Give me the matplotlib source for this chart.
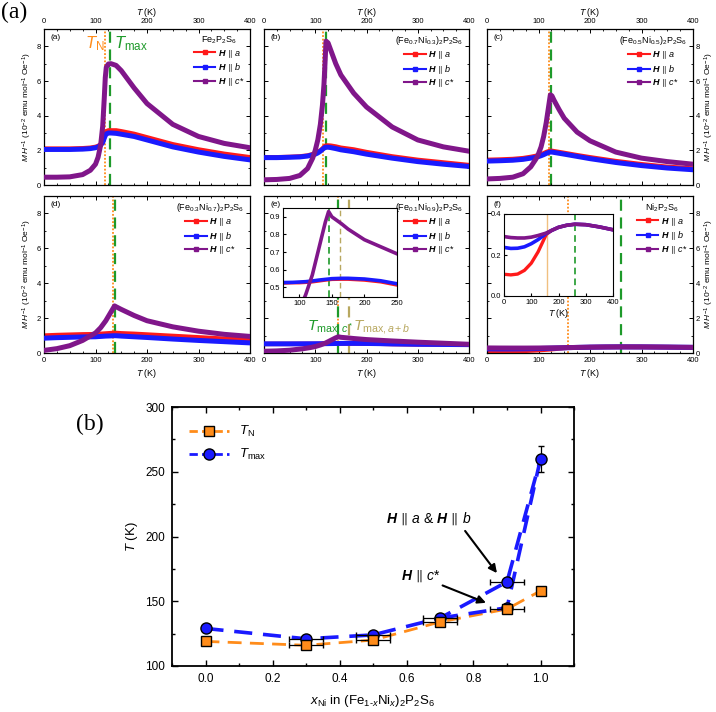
import matplotlib
matplotlib.use('Agg')
import matplotlib.pyplot as plt
from matplotlib.lines import Line2D
from matplotlib.ticker import MultipleLocator, FormatStrFormatter

plt.rcParams['font.family'] = ['Liberation Sans', 'DejaVu Sans']
plt.rcParams['mathtext.fontset'] = 'custom'
plt.rcParams['mathtext.rm'] = 'Liberation Sans'
plt.rcParams['mathtext.it'] = 'Liberation Sans:italic'
plt.rcParams['mathtext.bf'] = 'Liberation Sans:bold'
plt.rcParams['mathtext.bfit'] = 'Liberation Sans:bold:italic'
plt.rcParams['mathtext.fallback'] = 'stixsans'

RED = '#ff1a1a'
BLUE = '#1a1aff'
PURPLE = '#80168a'
ORANGE = '#ff8c1a'
GREEN = '#1e9a2a'
OLIVE = '#b8a860'

# ---- panel (a): M/H vs T for six compositions ----
names = [r'Fe$_2$P$_2$S$_6$', r'(Fe$_{0.7}$Ni$_{0.3}$)$_2$P$_2$S$_6$',
         r'(Fe$_{0.5}$Ni$_{0.5}$)$_2$P$_2$S$_6$', r'(Fe$_{0.3}$Ni$_{0.7}$)$_2$P$_2$S$_6$',
         r'(Fe$_{0.1}$Ni$_{0.9}$)$_2$P$_2$S$_6$', r'Ni$_2$P$_2$S$_6$']
letters = ['(a)', '(b)', '(c)', '(d)', '(e)', '(f)']

T_x0 = [0, 25, 50, 75, 90, 100, 105, 110, 114, 117, 119, 121, 125, 130, 140, 150, 175, 200, 250, 300, 350, 400]
a_x0 = [2.1, 2.1, 2.1, 2.12, 2.15, 2.2, 2.25, 2.35, 2.5, 2.8, 3.0, 3.1, 3.15, 3.15, 3.15, 3.1, 2.95, 2.75, 2.35, 2.05, 1.8, 1.6]
b_x0 = [2.05, 2.05, 2.05, 2.07, 2.1, 2.15, 2.2, 2.3, 2.45, 2.7, 2.85, 2.95, 3.0, 3.0, 2.98, 2.93, 2.8, 2.6, 2.2, 1.9, 1.65, 1.45]
c_x0 = [0.45, 0.45, 0.47, 0.6, 0.85, 1.2, 1.6, 2.3, 3.4, 5.0, 6.2, 6.8, 6.98, 7.0, 6.9, 6.6, 5.6, 4.7, 3.5, 2.8, 2.4, 2.15]

T_x3 = [0, 25, 50, 70, 85, 95, 100, 105, 110, 114, 117, 119, 121, 125, 130, 140, 150, 175, 200, 250, 300, 350, 400]
a_x3 = [1.6, 1.6, 1.62, 1.65, 1.7, 1.78, 1.82, 1.9, 2.0, 2.1, 2.2, 2.25, 2.28, 2.28, 2.27, 2.22, 2.15, 2.05, 1.9, 1.65, 1.45, 1.3, 1.15]
b_x3 = [1.58, 1.58, 1.6, 1.62, 1.67, 1.74, 1.78, 1.85, 1.95, 2.05, 2.12, 2.17, 2.18, 2.18, 2.16, 2.1, 2.03, 1.92, 1.78, 1.55, 1.35, 1.2, 1.07]
c_x3 = [0.3, 0.32, 0.38, 0.55, 0.95, 1.55, 2.0, 2.6, 3.5, 4.6, 5.8, 7.0, 8.3, 8.2, 7.8, 7.0, 6.35, 5.3, 4.5, 3.35, 2.6, 2.2, 1.95]

T_x5 = [0, 25, 50, 70, 85, 95, 100, 105, 110, 115, 120, 123, 126, 130, 140, 150, 175, 200, 250, 300, 350, 400]
a_x5 = [1.45, 1.47, 1.5, 1.55, 1.62, 1.68, 1.72, 1.77, 1.83, 1.9, 1.95, 1.97, 1.97, 1.95, 1.9, 1.85, 1.72, 1.6, 1.38, 1.2, 1.05, 0.95]
b_x5 = [1.38, 1.4, 1.43, 1.48, 1.55, 1.6, 1.64, 1.69, 1.75, 1.82, 1.88, 1.9, 1.9, 1.88, 1.83, 1.78, 1.65, 1.52, 1.3, 1.12, 0.98, 0.88]
c_x5 = [0.35, 0.38, 0.45, 0.65, 1.05, 1.5, 1.8, 2.2, 2.8, 3.6, 4.6, 5.2, 5.15, 4.9, 4.35, 3.85, 3.05, 2.55, 1.9, 1.55, 1.35, 1.2]

T_x7 = [0, 25, 50, 75, 100, 110, 120, 130, 135, 137, 140, 150, 175, 200, 250, 300, 350, 400]
a_x7 = [1.0, 1.03, 1.05, 1.07, 1.08, 1.1, 1.12, 1.14, 1.15, 1.15, 1.15, 1.13, 1.1, 1.06, 0.98, 0.9, 0.82, 0.76]
b_x7 = [0.85, 0.88, 0.9, 0.92, 0.93, 0.95, 0.97, 0.98, 0.99, 0.99, 0.99, 0.97, 0.93, 0.89, 0.8, 0.72, 0.65, 0.58]
c_x7 = [0.15, 0.25, 0.42, 0.72, 1.15, 1.45, 1.85, 2.35, 2.6, 2.7, 2.65, 2.5, 2.15, 1.85, 1.5, 1.25, 1.07, 0.95]

T_x9 = [0, 25, 50, 75, 90, 100, 110, 120, 130, 140, 145, 150, 165, 175, 200, 225, 250, 300, 350, 400]
a_x9 = [0.52, 0.52, 0.52, 0.523, 0.525, 0.525, 0.527, 0.53, 0.535, 0.54, 0.542, 0.544, 0.545, 0.545, 0.54, 0.53, 0.512, 0.49, 0.48, 0.47]
b_x9 = [0.525, 0.525, 0.525, 0.527, 0.528, 0.53, 0.532, 0.536, 0.541, 0.545, 0.547, 0.549, 0.551, 0.551, 0.547, 0.537, 0.52, 0.5, 0.49, 0.48]
c_x9 = [0.1, 0.12, 0.16, 0.24, 0.31, 0.37, 0.46, 0.57, 0.72, 0.87, 0.93, 0.9, 0.86, 0.83, 0.77, 0.73, 0.69, 0.62, 0.56, 0.5]

T_x10 = [0, 25, 50, 75, 100, 125, 155, 175, 200, 230, 260, 300, 350, 400]
a_x10 = [0.106, 0.103, 0.107, 0.125, 0.16, 0.215, 0.3, 0.32, 0.335, 0.345, 0.35, 0.348, 0.337, 0.323]
b_x10 = [0.237, 0.232, 0.233, 0.24, 0.255, 0.275, 0.305, 0.32, 0.335, 0.345, 0.35, 0.348, 0.337, 0.323]
c_x10 = [0.29, 0.285, 0.283, 0.283, 0.287, 0.295, 0.307, 0.32, 0.335, 0.345, 0.35, 0.348, 0.337, 0.323]

# ---- panel (b): transition temperatures ----
x_ni = [0.0, 0.3, 0.5, 0.7, 0.9, 1.0]
x_err = [0, 0.05, 0.05, 0.05, 0.05, 0]
t_n = [119, 116, 120, 134, 144, 158]
t_n_err = [0, 0, 0, 0, 0, 2]
t_max = [129, 121, 124, 137, 165, 260]   # H || a & H || b at x = 0.9
t_max_err = [0, 0, 0, 0, 0, 10]
t_max_c = 145                             # H || c* at x = 0.9

curves = [(T_x0, a_x0, b_x0, c_x0), (T_x3, a_x3, b_x3, c_x3), (T_x5, a_x5, b_x5, c_x5),
          (T_x7, a_x7, b_x7, c_x7), (T_x9, a_x9, b_x9, c_x9), (T_x10, a_x10, b_x10, c_x10)]
t_n_lines = t_n
t_max_lines = [t_max[0], t_max[1], t_max[2], t_max[3], t_max_c, t_max[5]]

fig = plt.figure(figsize=(7.16, 7.12), dpi=100)
W, H = 716, 712


def box(x0, y0, x1, y1):
    return [x0 / W, 1 - y1 / H, (x1 - x0) / W, (y1 - y0) / H]


cols = [(44, 250), (264, 469), (487, 693)]
rows = [(29, 185), (196, 353)]

lab_a = r'$\mathbfit{H}\,\parallel\,\mathit{a}$'
lab_b = r'$\mathbfit{H}\,\parallel\,\mathit{b}$'
lab_c = r'$\mathbfit{H}\,\parallel\,\mathit{c}$*'
ylab = r'$M\;H^{-1}$ (10$^{-2}$ emu mol$^{-1}$ Oe$^{-1}$)'

axes = []
for i in range(6):
    r, c = divmod(i, 3)
    ax = fig.add_axes(box(cols[c][0], rows[r][0], cols[c][1], rows[r][1]))
    axes.append(ax)
    T, ma, mb, mc = curves[i]
    ax.axvline(t_n_lines[i], color=ORANGE, ls=(0, (1, 1)), lw=1.3, zorder=1)
    ax.axvline(t_max_lines[i], color=GREEN, ls=(0, (5, 3)), lw=1.6, zorder=1)
    if i == 4:
        ax.axvline(t_max[4], color=OLIVE, ls=(0, (5, 3)), lw=1.6, zorder=1)
    ax.plot(T, ma, color=RED, lw=3.2, zorder=2)
    ax.plot(T, mb, color=BLUE, lw=3.6, zorder=3)
    ax.plot(T, mc, color=PURPLE, lw=3.6, zorder=4)
    ax.set_xlim(0, 400)
    ax.set_ylim(0, 9)
    ax.xaxis.set_major_locator(MultipleLocator(100))
    ax.xaxis.set_minor_locator(MultipleLocator(25))
    ax.yaxis.set_major_locator(MultipleLocator(2))
    ax.yaxis.set_minor_locator(MultipleLocator(1))
    ax.tick_params(which='both', direction='in', top=True, right=True, labelsize=5.5, pad=2)
    ax.tick_params(axis='x', pad=3)
    ax.tick_params(which='major', length=3, width=0.7)
    ax.tick_params(which='minor', length=1.5, width=0.6)
    for s in ax.spines.values():
        s.set_linewidth(0.9)
    if r == 0:
        ax.tick_params(labeltop=True, labelbottom=False)
        ax.xaxis.set_label_position('top')
    ax.set_xlabel(r'$T$ (K)', fontsize=6.5, labelpad=2)
    if c == 0:
        ax.set_ylabel(ylab, fontsize=6, labelpad=2)
    elif c == 1:
        ax.tick_params(labelleft=False)
    else:
        ax.tick_params(labelleft=False, labelright=True)
        ax.yaxis.set_label_position('right')
        ax.set_ylabel(ylab, fontsize=6, labelpad=2)
    ax.text(0.03, 0.965, letters[i], transform=ax.transAxes, fontsize=6, va='top')
    handles = [Line2D([], [], color=RED, lw=1.5, marker='s', ms=2.5),
               Line2D([], [], color=BLUE, lw=1.5, marker='s', ms=2.5),
               Line2D([], [], color=PURPLE, lw=1.5, marker='s', ms=2.5)]
    leg = ax.legend(handles, [lab_a, lab_b, lab_c], title=names[i], loc='upper right',
                    fontsize=6.5, title_fontsize=6.5, frameon=False, handlelength=2.4,
                    handletextpad=0.3, labelspacing=0.2, borderaxespad=0.2,
                    bbox_to_anchor=(1.0, 1.0))
    leg.set_zorder(10)

axes[0].text(80, 7.9, r'$T_{\rm N}$', color=ORANGE, fontsize=12)
axes[0].text(136, 7.9, r'$T_{\rm max}$', color=GREEN, fontsize=12)
axes[4].text(84, 1.3, r'$T_{{\rm max},c^*}$', color=GREEN, fontsize=11)
axes[4].text(174, 1.3, r'$T_{{\rm max},a+b}$', color=OLIVE, fontsize=11)

# inset of (e)
ins_e = fig.add_axes(box(283, 208, 397, 297))
ins_e.set_facecolor('white')
ins_e.axvline(t_max_c, color=GREEN, ls=(0, (4, 2.5)), lw=1.2)
ins_e.axvline(t_max[4] - 3, color=OLIVE, ls=(0, (4, 2.5)), lw=1.0)
ins_e.plot(T_x9, a_x9, color=RED, lw=2.2)
ins_e.plot(T_x9, b_x9, color=BLUE, lw=2.6)
ins_e.plot(T_x9, c_x9, color=PURPLE, lw=2.6)
ins_e.set_xlim(75, 250)
ins_e.set_ylim(0.445, 0.95)
ins_e.xaxis.set_major_locator(MultipleLocator(50))
ins_e.yaxis.set_major_locator(MultipleLocator(0.1))
ins_e.tick_params(direction='in', labelsize=5.5, length=2, pad=2)

# inset of (f)
ins_f = fig.add_axes(box(504, 214, 613, 296))
ins_f.set_facecolor('white')
ins_f.axvline(t_n[5], color='#f0c080', lw=1.0)
ins_f.axvline(t_max[5], color=GREEN, ls=(0, (4, 2.5)), lw=1.2)
ins_f.plot(T_x10, a_x10, color=RED, lw=2.4)
ins_f.plot(T_x10, b_x10, color=BLUE, lw=2.6)
ins_f.plot(T_x10, c_x10, color=PURPLE, lw=2.6)
ins_f.set_xlim(0, 400)
ins_f.set_ylim(0, 0.4)
ins_f.xaxis.set_major_locator(MultipleLocator(100))
ins_f.yaxis.set_major_locator(MultipleLocator(0.2))
ins_f.yaxis.set_major_formatter(FormatStrFormatter('%.1f'))
ins_f.tick_params(direction='in', labelsize=5.5, length=2, pad=2)
ins_f.set_xlabel(r'$T$ (K)', fontsize=6.5, labelpad=1)

# ---- panel (b) ----
axb = fig.add_axes(box(172, 407, 574, 666))
dash_o = (0, (5, 3))
dash_b = (0, (5, 3))
axb.plot(x_ni, t_n, color=ORANGE, ls=dash_o, lw=2.0, zorder=2)
axb.plot(x_ni, t_max, color=BLUE, ls=dash_b, lw=2.6, zorder=2)
axb.plot([x_ni[3], x_ni[4], x_ni[5]], [t_max[3], t_max_c, t_max[5]], color=BLUE, ls=dash_b,
         lw=2.6, zorder=2)
axb.errorbar(x_ni, t_max, xerr=x_err, yerr=t_max_err, fmt='o', mfc=BLUE, mec='k', mew=1.0,
             ms=8, ecolor='k', elinewidth=0.9, capsize=2.5, zorder=3)
axb.errorbar([x_ni[4]], [t_max_c], fmt='o', mfc=BLUE, mec='k', mew=1.0, ms=8, zorder=3)
axb.errorbar(x_ni, t_n, xerr=x_err, yerr=t_n_err, fmt='s', mfc=ORANGE, mec='k', mew=1.0,
             ms=6.5, ecolor='k', elinewidth=0.9, capsize=2.5, zorder=4)
axb.set_xlim(-0.1, 1.1)
axb.set_ylim(100, 300)
axb.xaxis.set_major_locator(MultipleLocator(0.2))
axb.xaxis.set_minor_locator(MultipleLocator(0.1))
axb.yaxis.set_major_locator(MultipleLocator(50))
axb.yaxis.set_minor_locator(MultipleLocator(25))
axb.tick_params(which='both', direction='in', top=True, right=True, labelsize=8.5, pad=5)
axb.tick_params(which='major', length=4, width=1)
axb.tick_params(which='minor', length=2.5, width=1)
for s in axb.spines.values():
    s.set_linewidth(1.3)
axb.set_xlabel(r'$x_{\rm Ni}$ in (Fe$_{1\text{-}x}$Ni$_x$)$_2$P$_2$S$_6$', fontsize=9.5, labelpad=6)
axb.set_ylabel(r'$T$ (K)', fontsize=9.5, labelpad=4)

hb = [Line2D([], [], color=ORANGE, ls=(0, (3, 1.5)), lw=2, marker='s', mfc=ORANGE, mec='k', ms=7),
      Line2D([], [], color=BLUE, ls=(0, (3, 1.5)), lw=2, marker='o', mfc=BLUE, mec='k', ms=8)]
axb.legend(hb, [r'$T_{\rm N}$', r'$T_{\rm max}$'], loc='upper left', frameon=False,
           fontsize=9.5, handlelength=3.0, borderaxespad=0.9, labelspacing=0.6)

axb.text(0.54, 211, r'$\mathbfit{H}\,\parallel\,\mathit{a}$ & $\mathbfit{H}\,\parallel\,\mathit{b}$',
         fontsize=10)
axb.annotate('', xy=(0.875, 170), xytext=(0.77, 206),
             arrowprops=dict(arrowstyle='-|>', color='k', lw=1.5, mutation_scale=12))
axb.text(0.585, 167, r'$\mathbfit{H}\,\parallel\,\mathit{c}$*', fontsize=10)
axb.annotate('', xy=(0.845, 148), xytext=(0.70, 163),
             arrowprops=dict(arrowstyle='-|>', color='k', lw=1.5, mutation_scale=12))

fig.text(0.002, 0.998, '(a)', fontsize=17, family='Liberation Serif', va='top')
fig.text(76 / W, 1 - 414 / H, '(b)', fontsize=17, family='Liberation Serif', va='top')

fig.savefig('out.png', dpi=100)
